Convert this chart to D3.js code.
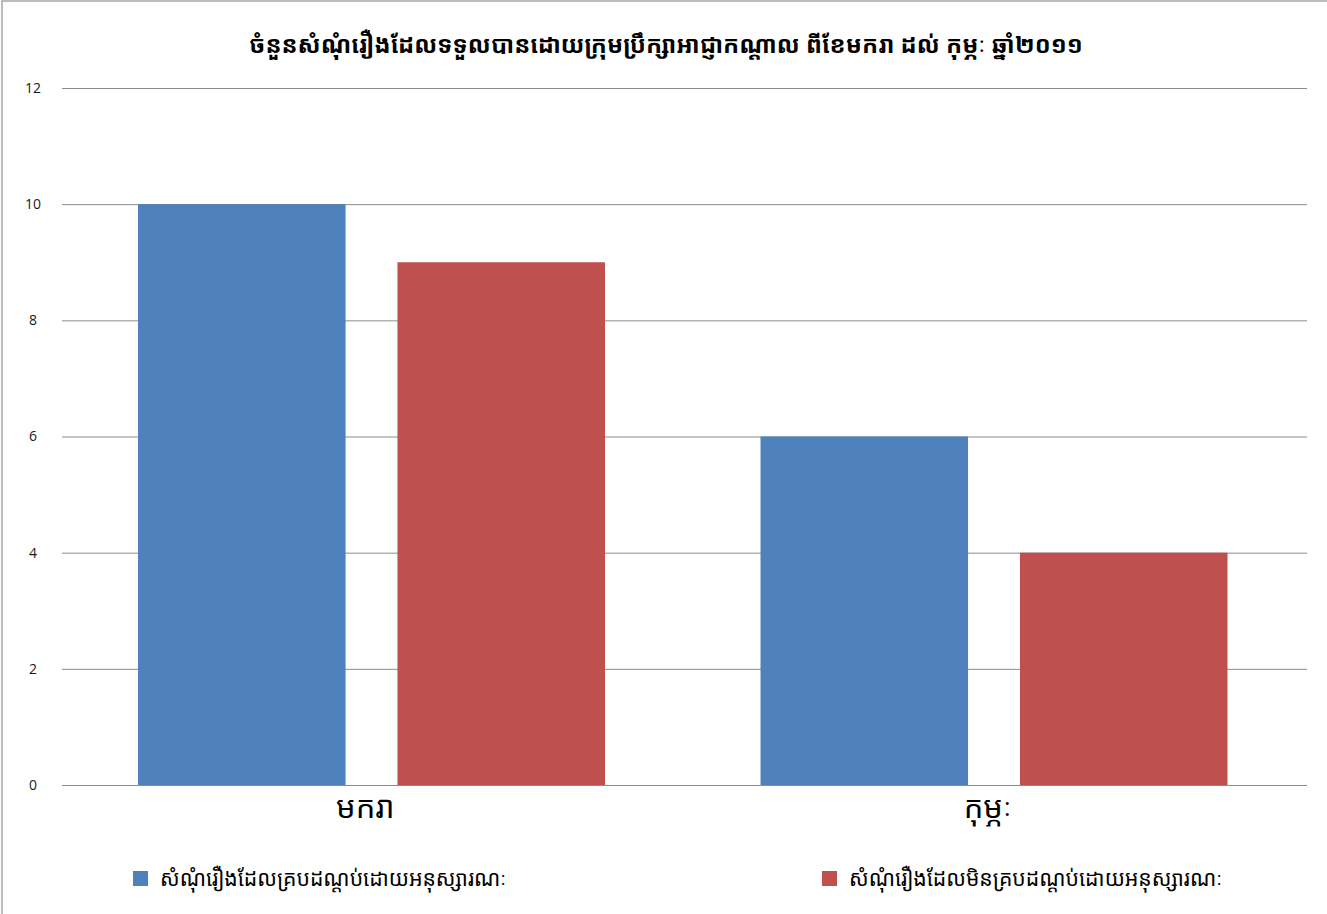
<!DOCTYPE html>
<html><head><meta charset="utf-8">
<script src="https://cdn.jsdelivr.net/npm/d3@7"></script>
<style>
html,body{margin:0;padding:0;background:#fff;}
svg{display:block;}
</style></head>
<body>
<svg id="chart" width="1327" height="914"></svg>
<script>
const title = "ចំនួនសំណុំរឿងដែលទទួលបានដោយក្រុមប្រឹក្សាអាជ្ញាកណ្តាល  ពីខែមករា ដល់ កុម្ភៈ ឆ្នាំ២០១១";
const categories = ["មករា", "កុម្ភៈ"];
const seriesNames = ["សំណុំរឿងដែលគ្របដណ្តប់ដោយអនុស្សារណៈ", "សំណុំរឿងដែលមិនគ្របដណ្តប់ដោយអនុស្សារណៈ"];
const seriesCovered = [10, 6];
const seriesNotCovered = [9, 4];
const yTicks = [0, 2, 4, 6, 8, 10, 12];
const colors = ["#4F81BD", "#C0504D"];

const khmerFont = "'Khmer OS', 'Noto Sans Khmer', 'Khmer OS System', 'DejaVu Sans', sans-serif";
const svg = d3.select("#chart");

// frame
svg.append("rect").attr("x", 2).attr("y", 1).attr("width", 1340).attr("height", 930)
  .attr("fill", "none").attr("stroke", "#a6a6a6").attr("stroke-width", 1.5);

const plot = {left: 62, right: 1307, top: 88, bottom: 785};
const x0 = d3.scaleBand().domain(categories).range([plot.left, plot.right]).paddingInner(0).paddingOuter(0);
const x1 = d3.scaleBand().domain([0, 1]).range([76, 543]).paddingInner(0.2);
const y = d3.scaleLinear().domain([0, 12]).range([plot.bottom, plot.top]);

// gridlines
svg.append("g").selectAll("line").data(yTicks).join("line")
  .attr("x1", plot.left).attr("x2", plot.right)
  .attr("y1", d => y(d) + 0.5).attr("y2", d => y(d) + 0.5)
  .attr("stroke", "#8c8c8c").attr("stroke-width", 1);

// y axis labels
svg.append("g").selectAll("text").data(yTicks).join("text")
  .attr("x", 33).attr("y", d => y(d)).attr("dy", "0.35em")
  .attr("text-anchor", "middle")
  .attr("font-family", "'Open Sans', 'Liberation Sans', sans-serif")
  .attr("font-size", 14).attr("fill", "#1a1a1a")
  .text(d => d);

// bars
const data = categories.map((c, i) => ({cat: c, vals: [seriesCovered[i], seriesNotCovered[i]]}));
const groups = svg.append("g").selectAll("g").data(data).join("g")
  .attr("transform", d => `translate(${x0(d.cat)},0)`);
groups.selectAll("rect").data(d => d.vals.map((v, j) => ({v, j}))).join("rect")
  .attr("x", d => x1(d.j)).attr("width", x1.bandwidth())
  .attr("y", d => y(d.v)).attr("height", d => y(0) - y(d.v))
  .attr("fill", d => colors[d.j]);

// baseline
svg.append("line").attr("x1", plot.left).attr("x2", plot.right)
  .attr("y1", y(0) + 0.5).attr("y2", y(0) + 0.5).attr("stroke", "#8c8c8c");

// category labels
svg.append("g").selectAll("text").data(categories).join("text")
  .attr("x", d => x0(d) + x0.bandwidth() / 2 - 8).attr("y", 818)
  .attr("text-anchor", "middle")
  .attr("font-family", khmerFont).attr("font-size", 31).attr("fill", "#000")
  .text(d => d);

// title
svg.append("text").attr("x", 666).attr("y", 53).attr("text-anchor", "middle")
  .attr("font-family", khmerFont).attr("font-size", 23.8).attr("font-weight", "bold").attr("fill", "#000")
  .text(title);

// legend
const legendPos = [133, 822];
const leg = svg.append("g").selectAll("g").data(seriesNames).join("g")
  .attr("transform", (d, i) => `translate(${legendPos[i]},871)`);
leg.append("rect").attr("width", 15).attr("height", 15).attr("fill", (d, i) => colors[i]);
leg.append("text").attr("x", 27).attr("y", 8).attr("dy", "0.35em")
  .attr("font-family", khmerFont).attr("font-size", 21.2).attr("fill", "#000")
  .text(d => d);
</script>
</body></html>
